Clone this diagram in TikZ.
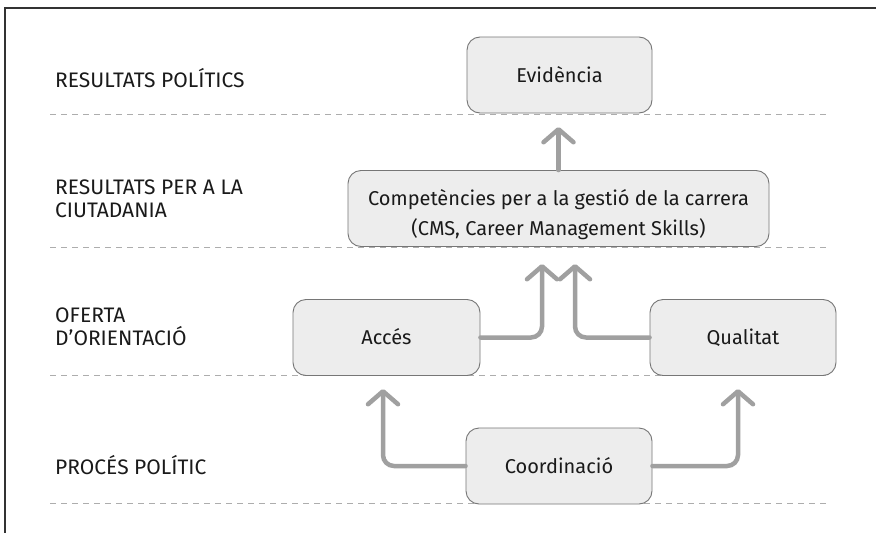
\documentclass[tikz,border=0pt]{standalone}
\usepackage{fontspec}
\setmainfont{Fira Sans}
\usetikzlibrary{arrows.meta}
\definecolor{boxfill}{HTML}{EDEDED}
\definecolor{boxline}{HTML}{767676}
\definecolor{arrgray}{HTML}{A0A0A0}
\definecolor{dashgray}{HTML}{ADADAD}
\definecolor{framegray}{HTML}{333333}
\definecolor{txt}{HTML}{1A1A1A}
\tikzset{
  boxnode/.style={draw=boxline, fill=boxfill, line width=0.9pt, rounded corners=13pt,
    minimum height=76pt, inner sep=0pt, font=\fontsize{20}{24}\selectfont, text=txt},
  levellabel/.style={anchor=base west, inner sep=0pt, align=left,
    font=\fontsize{21}{23}\selectfont, text=txt},
  sepline/.style={dashgray, line width=1pt, dash pattern=on 6pt off 5pt},
  flow/.style={arrgray, line width=4.5pt, rounded corners=11pt, line cap=round,
    -{Straight Barb[length=13pt,width=30pt,line cap=round,line join=round]}}
}
\begin{document}
\begin{tikzpicture}[x=1pt,y=-1pt]
\useasboundingbox (0,0) rectangle (876,533);
\fill[white] (0,0) rectangle (876,533);
\draw[framegray, line width=1.3pt] (5,533) -- (5,8) -- (876,8);

% level separators
\draw[sepline] (50,114) -- (830,114);
\draw[sepline] (50,247) -- (830,247);
\draw[sepline] (50,375) -- (830,375);
\draw[sepline] (50,503) -- (830,503);

% level labels (base anchor = baseline of last line)
\node[levellabel] (l1) at (55,87) {RESULTATS POLÍTICS};
\node[levellabel] (l2) at (55,217) {RESULTATS PER A LA\\CIUTADANIA};
\node[levellabel] (l3) at (55,345) {OFERTA\\D’ORIENTACIÓ};
\node[levellabel] (l4) at (55,474) {PROCÉS POLÍTIC};

% boxes
\node[boxnode, minimum width=185pt, text height=14pt, text depth=0pt] (ev) at (559.5,75) {Evidència};
\node[boxnode, minimum width=421pt, align=center, text height=53pt, text depth=0pt] (cms) at (558.5,208.5)
  {Competències per a la gestió de la carrera\\[6pt](CMS, Career Management Skills)};
\node[boxnode, minimum width=187pt, text height=14pt, text depth=0pt] (acc) at (386.5,337.5) {Accés};
\node[boxnode, minimum width=186pt, text height=14pt, text depth=0pt] (qual) at (743,337.5) {Qualitat};
\node[boxnode, minimum width=186pt, text height=14pt, text depth=0pt] (coord) at (559,466) {Coordinació};

% arrow end points
\coordinate (t1) at (558.5,127);
\coordinate (t2) at (542,264);
\coordinate (t3) at (575,264);
\coordinate (t4) at (383,389);
\coordinate (t5) at (738,389);

% connectors
\draw[flow] (cms.north) -- (t1);
\draw[flow] (acc.east) -| (t2);
\draw[flow] (qual.west) -| (t3);
\draw[flow] (coord.west) -| (t4);
\draw[flow] (coord.east) -| (t5);
\end{tikzpicture}
\end{document}
